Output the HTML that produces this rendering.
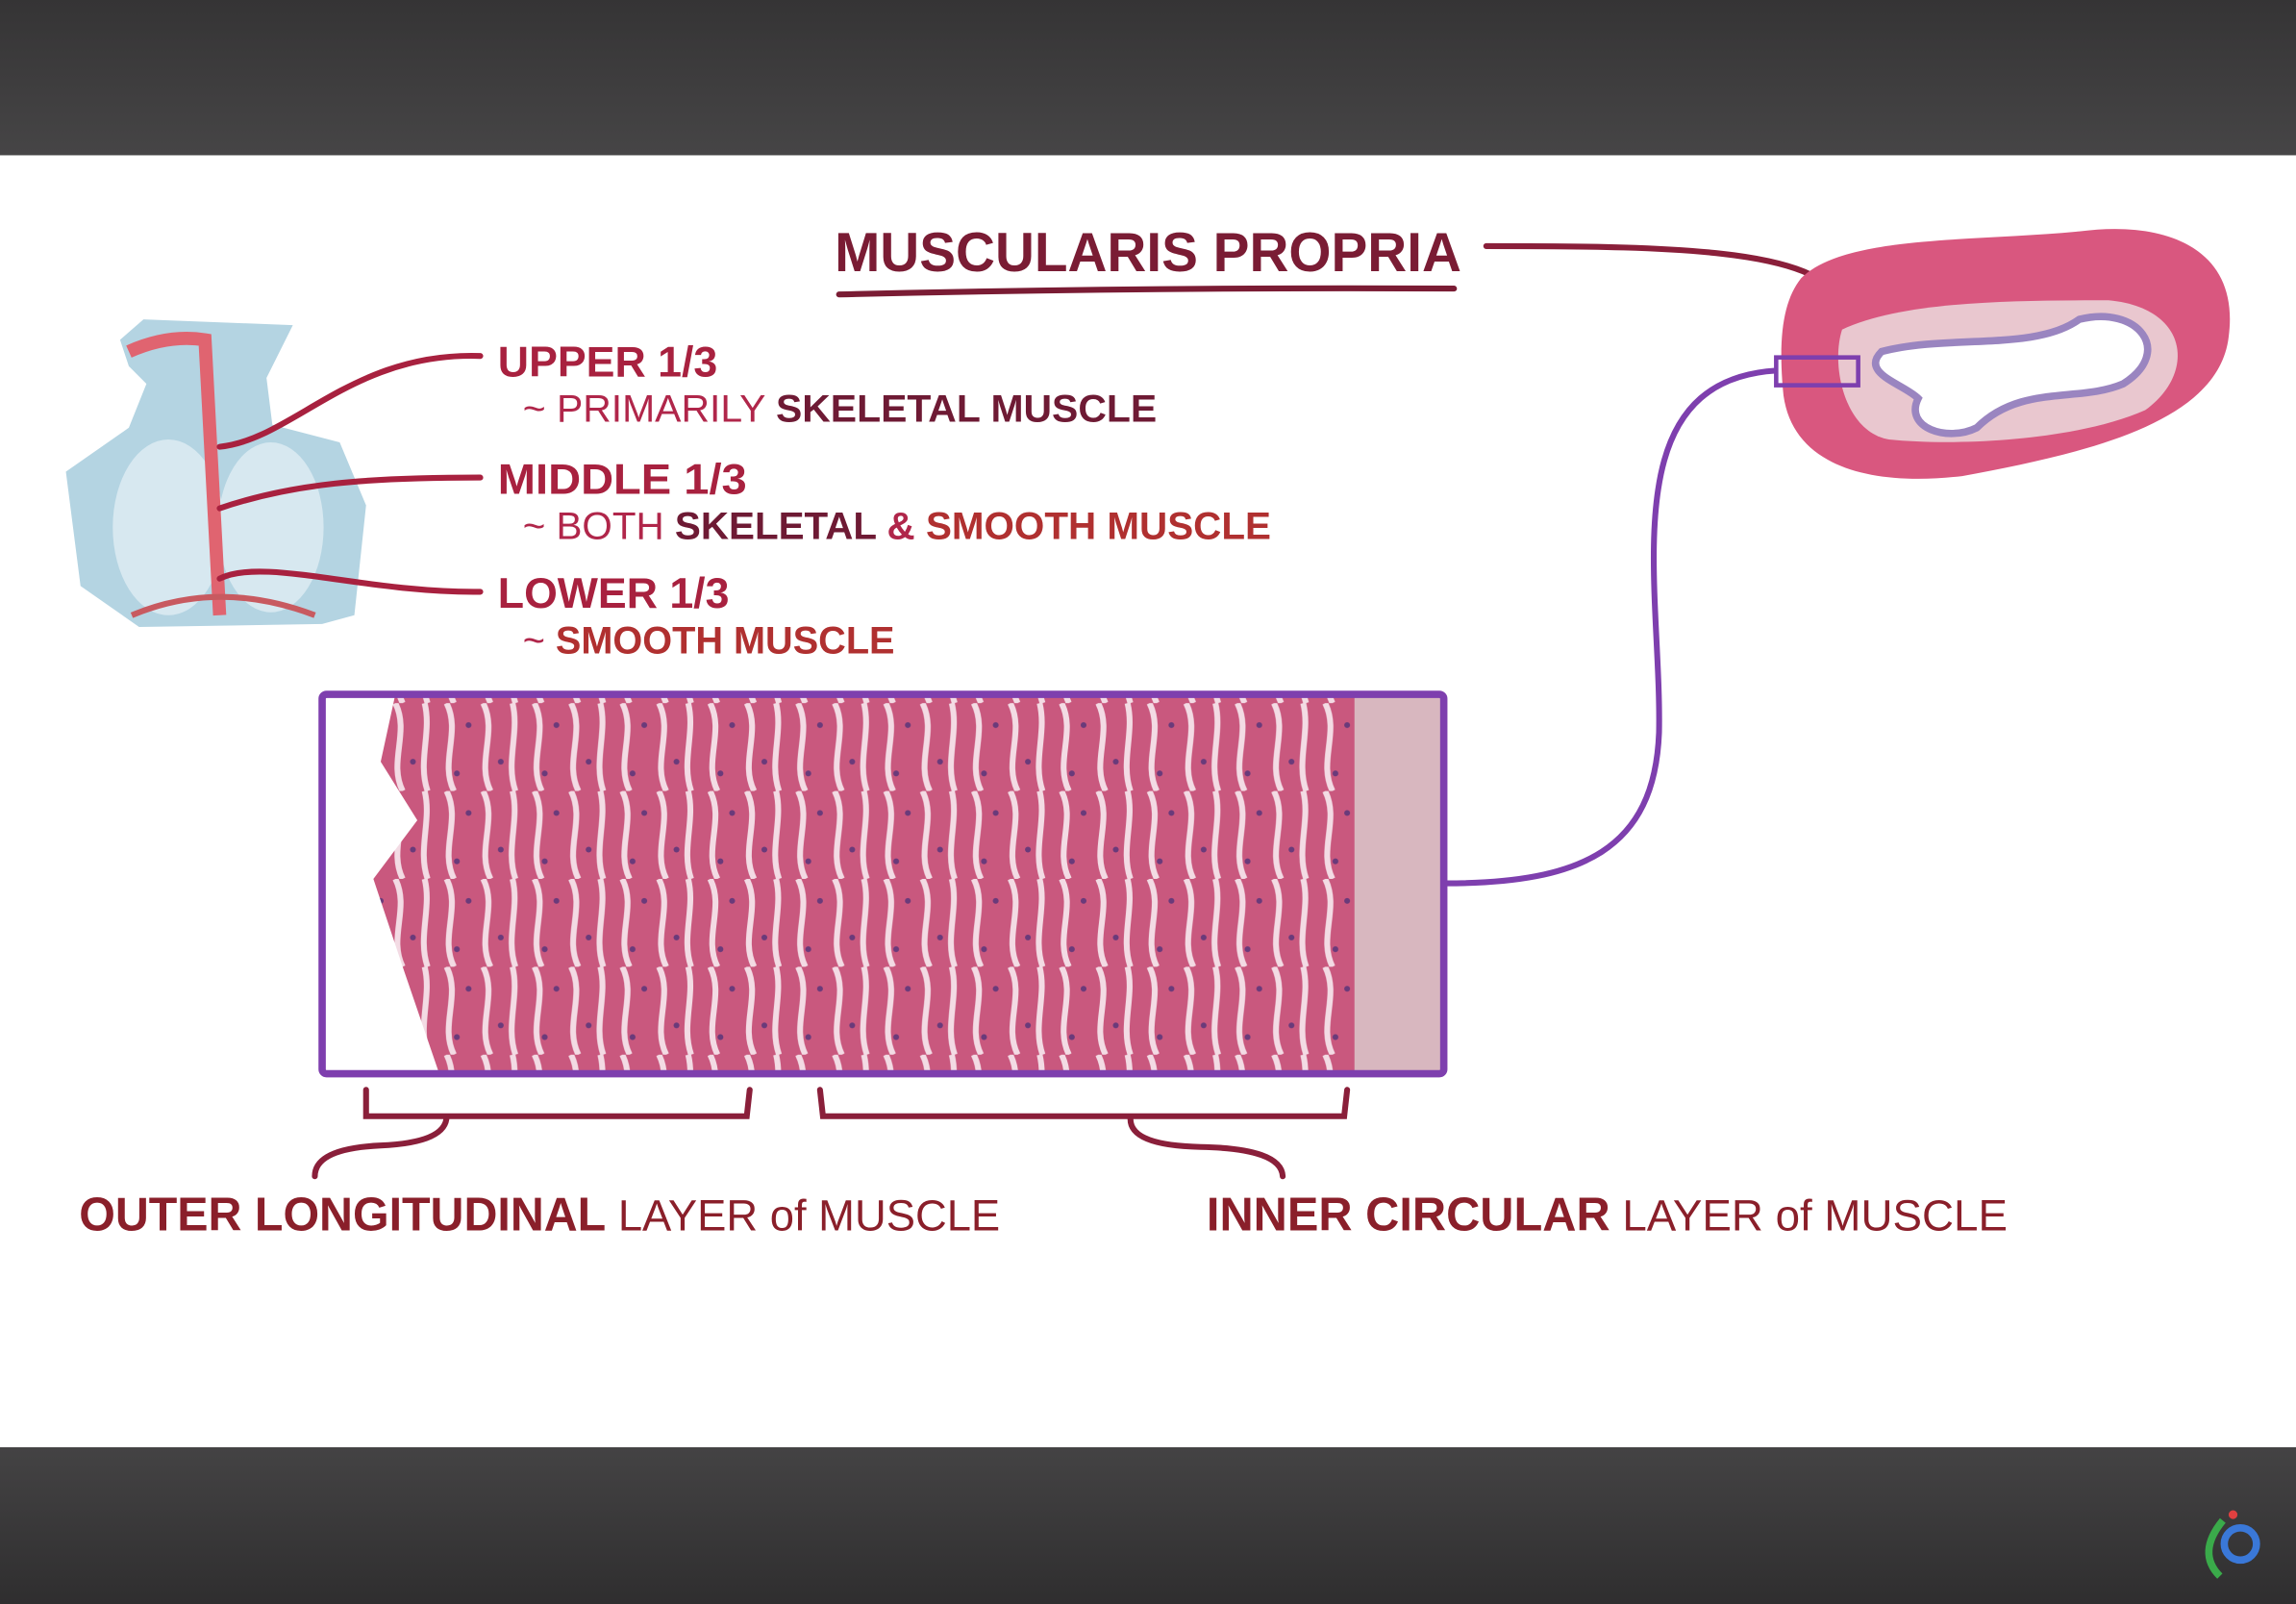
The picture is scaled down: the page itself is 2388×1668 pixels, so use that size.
<!DOCTYPE html>
<html><head><meta charset="utf-8"><style>
html,body{margin:0;padding:0;width:2388px;height:1668px;overflow:hidden;background:#fff}
svg{display:block}
text{font-family:"Liberation Sans",sans-serif;font-weight:bold}
</style></head><body>
<svg width="2388" height="1668" viewBox="0 0 1568 1095" preserveAspectRatio="none">
<defs>
<linearGradient id="tb" x1="0" y1="0" x2="0" y2="1"><stop offset="0" stop-color="#353435"/><stop offset="1" stop-color="#464546"/></linearGradient>
<linearGradient id="bb" x1="0" y1="0" x2="0" y2="1"><stop offset="0" stop-color="#444344"/><stop offset="1" stop-color="#2f2e2f"/></linearGradient>
<pattern id="hist" width="60" height="60" patternUnits="userSpaceOnUse">
<rect width="60" height="60" fill="#c9587e"/>
<path d="M5 0 C15 20 0 40 10 60 M30 0 C40 20 25 40 35 60 M50 0 C55 20 45 40 52 60" stroke="#f3dbe4" stroke-width="4" fill="none"/>
<circle cx="20" cy="15" r="2" fill="#6a3a7a"/><circle cx="42" cy="40" r="2" fill="#6a3a7a"/><circle cx="12" cy="48" r="2" fill="#6a3a7a"/>
</pattern>
</defs>
<rect x="0" y="0" width="1568" height="106" fill="url(#tb)"/>
<rect x="0" y="988" width="1568" height="107" fill="url(#bb)"/>

<text x="570" y="185" font-size="38" fill="#7a1c34" textLength="428" lengthAdjust="spacingAndGlyphs">MUSCULARIS PROPRIA</text>
<path d="M573 201 Q780 196 993 197" stroke="#7a1c34" stroke-width="4" fill="none" stroke-linecap="round"/>
<path d="M1015 168 C1150 168 1250 170 1260 212" stroke="#8a1f3a" stroke-width="4" fill="none" stroke-linecap="round"/>

<!-- torso -->
<path d="M82 232 L98 218 L200 222 L182 258 L186 290 L232 302 L250 345 L242 420 L220 426 L95 428 L55 400 L45 322 L88 292 L100 262 L88 250 Z" fill="#b4d4e2"/>
<ellipse cx="115" cy="360" rx="38" ry="60" fill="#d7e8f0"/>
<ellipse cx="185" cy="360" rx="36" ry="58" fill="#d7e8f0"/>
<path d="M88 240 Q115 228 140 232 L150 420" stroke="#e06470" stroke-width="9" fill="none"/>
<path d="M90 420 Q150 395 215 420" stroke="#c85a60" stroke-width="4" fill="none"/>
<path d="M150 305 C200 300 240 240 328 243" stroke="#a8213f" stroke-width="4" fill="none" stroke-linecap="round"/>
<path d="M150 347 C200 330 250 326 328 326" stroke="#a8213f" stroke-width="4" fill="none" stroke-linecap="round"/>
<path d="M150 395 C180 380 250 405 328 404" stroke="#a8213f" stroke-width="4" fill="none" stroke-linecap="round"/>

<text x="340" y="257" font-size="29" fill="#a8213f" textLength="150" lengthAdjust="spacingAndGlyphs">UPPER 1/3</text>
<text x="357" y="288" font-size="26" fill="#b0264a" textLength="433" lengthAdjust="spacingAndGlyphs"><tspan font-weight="normal">~ PRIMARILY </tspan><tspan fill="#6e1a34">SKELETAL MUSCLE</tspan></text>
<text x="340" y="337" font-size="29" fill="#a8213f" textLength="170" lengthAdjust="spacingAndGlyphs">MIDDLE 1/3</text>
<text x="357" y="368" font-size="26" fill="#b0264a" textLength="511" lengthAdjust="spacingAndGlyphs"><tspan font-weight="normal">~ BOTH </tspan><tspan fill="#6e1a34">SKELETAL </tspan><tspan>&amp; </tspan><tspan fill="#b03030">SMOOTH MUSCLE</tspan></text>
<text x="340" y="415" font-size="29" fill="#a8213f" textLength="158" lengthAdjust="spacingAndGlyphs">LOWER 1/3</text>
<text x="357" y="446" font-size="26" fill="#b0264a" textLength="254" lengthAdjust="spacingAndGlyphs"><tspan font-weight="normal">~ </tspan><tspan fill="#b03030">SMOOTH MUSCLE</tspan></text>

<rect x="220" y="474" width="766" height="259" fill="url(#hist)"/>
<path d="M220 474 L270 474 L260 520 L285 560 L255 600 L275 660 L300 733 L220 733 Z" fill="#fff"/>
<rect x="925" y="474" width="61" height="259" fill="#d8b7bf"/>
<rect x="220" y="474" width="766" height="259" fill="none" stroke="#7e3fae" stroke-width="5" rx="3"/>
<path d="M988 603 C1080 603 1130 580 1133 500 C1135 400 1100 260 1213 253" stroke="#7e3fae" stroke-width="4" fill="none"/>

<!-- cross section -->
<path d="M1230 190 C1260 160 1350 165 1420 158 C1480 150 1530 170 1522 230 C1515 290 1420 310 1340 325 C1280 332 1225 320 1218 270 C1214 230 1218 205 1230 190 Z" fill="#d9577f"/>
<path d="M1258 225 C1300 205 1380 205 1440 205 C1495 210 1500 255 1465 280 C1420 300 1340 305 1290 300 C1260 295 1250 250 1258 225 Z" fill="#e9c7cf"/>
<path d="M1285 240 C1330 228 1390 240 1420 218 C1460 208 1485 240 1450 262 C1420 275 1380 262 1350 292 C1330 302 1300 292 1310 272 C1300 262 1270 255 1285 240 Z" fill="#fff" stroke="#9a85c0" stroke-width="5"/>
<rect x="1213" y="244" width="56" height="19" fill="none" stroke="#7e3fae" stroke-width="3"/>

<path d="M250 744 L250 762 L305 762 L510 762 L512 744 M305 762 Q305 780 260 782 Q215 784 215 803" stroke="#8a1f3a" stroke-width="4" fill="none" stroke-linecap="round"/>
<path d="M560 744 L562 762 L918 762 L920 744 M772 764 Q772 782 820 783 Q875 784 876 803" stroke="#8a1f3a" stroke-width="4" fill="none" stroke-linecap="round"/>

<text x="54" y="840" font-size="32" fill="#8a1f2a" textLength="629" lengthAdjust="spacingAndGlyphs">OUTER LONGITUDINAL<tspan font-weight="normal" font-size="30"> LAYER of MUSCLE</tspan></text>
<text x="824" y="840" font-size="32" fill="#8a1f2a" textLength="547" lengthAdjust="spacingAndGlyphs">INNER CIRCULAR<tspan font-weight="normal" font-size="30"> LAYER of MUSCLE</tspan></text>

<circle cx="1530" cy="1054" r="11" fill="none" stroke="#3a78d8" stroke-width="5"/>
<path d="M1518 1038 Q1500 1060 1516 1076" stroke="#3aaa4a" stroke-width="5" fill="none"/>
<circle cx="1525" cy="1034" r="3" fill="#e04040"/>
</svg>
</body></html>
